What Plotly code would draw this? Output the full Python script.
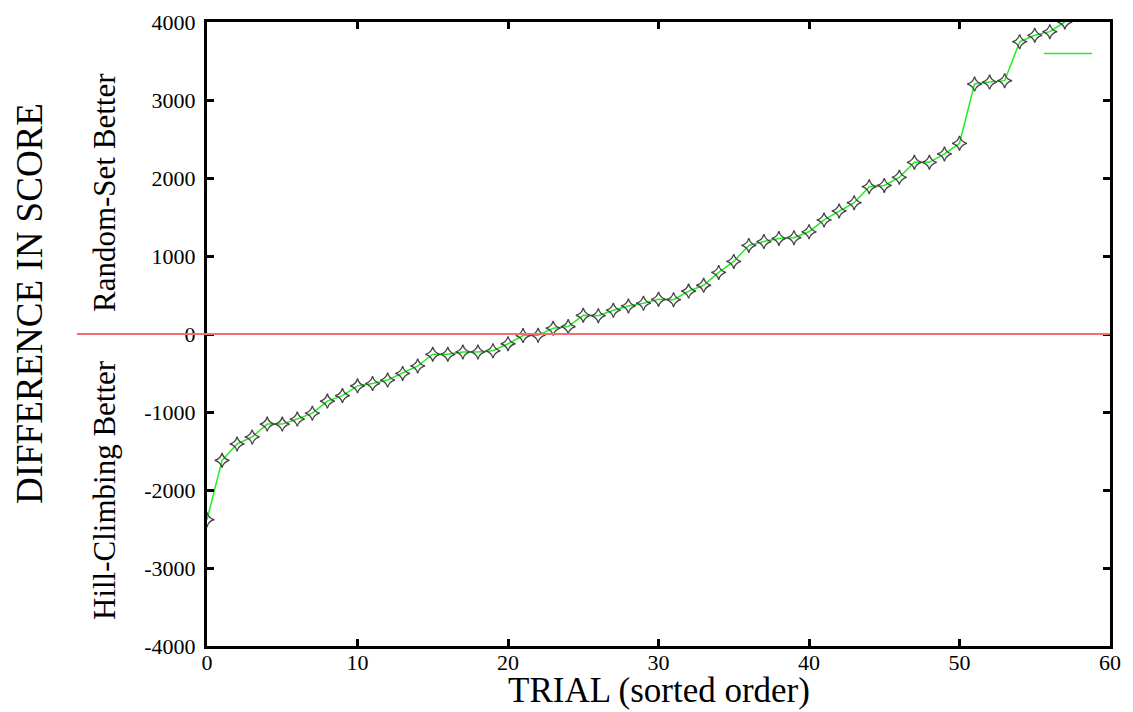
import plotly.graph_objects as go

trials = list(range(58))
diff_score = [-2380, -1620, -1410, -1320, -1155, -1155, -1090, -1015, -860, -790,
              -665, -635, -590, -505, -410, -260, -260, -230, -230, -215,
              -125, -20, -15, 75, 95, 240, 235, 305, 360, 395,
              445, 440, 550, 625, 790, 930, 1135, 1185, 1225, 1235,
              1310, 1462, 1577, 1683, 1889, 1905, 2009, 2201, 2201, 2308,
              2445, 3205, 3230, 3248, 3747, 3830, 3876, 4000]
x_ticks = [0, 10, 20, 30, 40, 50, 60]
y_ticks = [-4000, -3000, -2000, -1000, 0, 1000, 2000, 3000, 4000]
y_tick_text = [str(v) for v in y_ticks]

FONT = "Liberation Serif, Times New Roman, serif"

fig = go.Figure()
fig.add_trace(go.Scatter(x=trials, y=diff_score, mode="lines", name=" ",
                         line=dict(color="#22ee22", width=1.5), showlegend=True))
fig.add_trace(go.Scatter(x=trials, y=diff_score, mode="markers", showlegend=False,
                         marker=dict(symbol="star-diamond-open", size=10.5,
                                     color="#444444", line=dict(width=1.3, color="#444444"))))

fig.add_shape(type="line", xref="paper", yref="y", x0=-0.144, x1=1, y0=0, y1=0,
              line=dict(color="#f07070", width=2), layer="above")

axis_common = dict(showgrid=False, zeroline=False, showline=True, linecolor="black",
                   linewidth=3, mirror="allticks", ticks="inside", ticklen=7,
                   tickwidth=2.5, tickcolor="black", automargin=False,
                   tickfont=dict(family=FONT, size=22, color="black"))

fig.update_xaxes(range=[0, 60], tickvals=x_ticks, ticklabelstandoff=-5,
                 **axis_common)
fig.update_yaxes(range=[-4000, 4000], tickvals=y_ticks, ticktext=y_tick_text,
                 ticklabelstandoff=4,
                 **axis_common)

fig.add_annotation(text="TRIAL (sorted order)", xref="paper", yref="paper",
                   x=0.5, y=(646 - 712) / 624, showarrow=False,
                   xanchor="center", yanchor="bottom",
                   font=dict(family=FONT, size=35, color="black"))
fig.add_annotation(text="DIFFERENCE IN SCORE", xref="paper", yref="paper",
                   x=(30 - 207) / 903, y=(646 - 304) / 624, textangle=-90, showarrow=False,
                   xanchor="center", yanchor="middle",
                   font=dict(family=FONT, size=37, color="black"))
fig.add_annotation(text="Random-Set Better", xref="paper", yref="paper",
                   x=(104 - 207) / 903, y=(646 - 193) / 624, textangle=-90, showarrow=False,
                   xanchor="center", yanchor="middle",
                   font=dict(family=FONT, size=31, color="black"))
fig.add_annotation(text="Hill-Climbing Better", xref="paper", yref="paper",
                   x=(104 - 207) / 903, y=(646 - 490) / 624, textangle=-90, showarrow=False,
                   xanchor="center", yanchor="middle",
                   font=dict(family=FONT, size=31, color="black"))

fig.update_layout(width=1133, height=712, plot_bgcolor="white", paper_bgcolor="white",
                  margin=dict(l=207, r=23, t=22, b=66),
                  legend=dict(x=(1039 - 207) / 903, y=(646 - 38) / 624, xanchor="left", yanchor="top",
                              itemwidth=48,
                              bgcolor="rgba(0,0,0,0)", font=dict(family=FONT, size=14)))

fig.write_html("out.html", config={"displayModeBar": False},
               post_script="document.body.style.margin='0';document.body.style.overflow='hidden';")
